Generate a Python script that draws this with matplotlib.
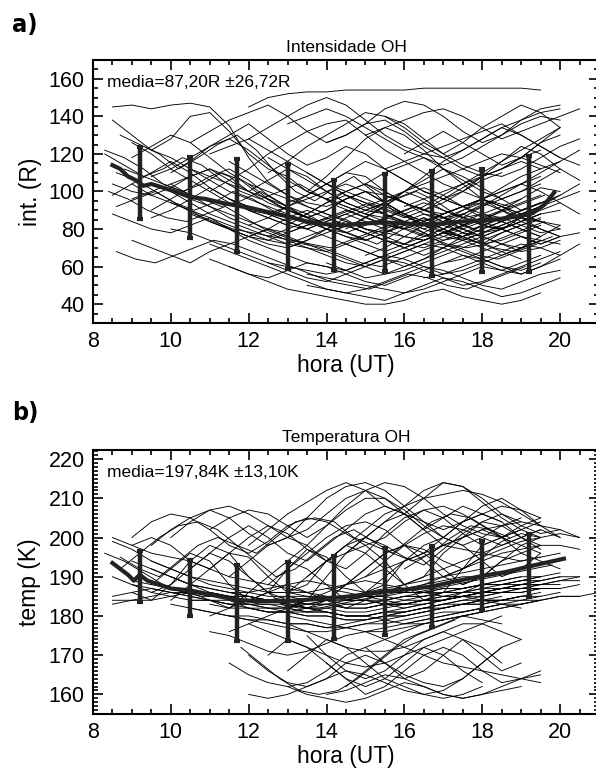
import matplotlib
matplotlib.use("Agg")
import matplotlib.pyplot as plt
from matplotlib.ticker import MultipleLocator
import numpy as np

plt.rcParams['font.family'] = ['Liberation Sans', 'DejaVu Sans']

# ---- panel a: OH intensity, one curve per night (start hour, values every 0.5 h)
int_start = [8.5, 8.5, 8.3, 8.7, 8.5, 8.6, 8.4, 8.8, 9.0, 9.5, 10.0, 10.5, 12.0, 11.0,
             10.0, 11.0, 11.5, 12.0, 12.5, 13.0, 13.5, 14.0, 14.5, 15.0, 15.0, 16.0,
             16.0, 16.5, 17.0, 9.0, 9.5, 10.5, 11.0, 12.0, 12.5, 13.0, 8.5, 9.0, 14.0,
             15.5, 10.0, 11.5, 8.6, 13.5, 9.5,
             8.3, 8.5, 9.0, 9.5, 10.0, 10.5, 11.0, 11.5, 12.0, 12.5, 13.0, 13.5, 14.0,
             14.5, 15.0, 15.5, 16.0, 16.5, 12.0, 13.0, 10.5, 9.0, 11.0, 13.5, 14.0,
             15.0, 17.0, 8.6, 10.0, 12.5]
int_nights = [
    [145, 146, 144, 146, 147, 145, 135, 118, 105, 98, 92, 88, 85, 80, 78, 82, 86, 80, 75, 72, 78, 82, 85],
    [138, 130, 122, 128, 140, 142, 132, 120, 112, 108, 100, 96, 92, 88, 94, 100, 96, 90, 86, 88, 92, 96],
    [122, 118, 112, 104, 100, 96, 92, 95, 100, 94, 88, 84, 80, 76, 72, 78, 84, 86, 80, 75, 70, 68, 72, 76],
    [130, 125, 120, 112, 118, 125, 130, 122, 110, 100, 95, 102, 108, 100, 90, 85, 80, 84, 90, 95, 92],
    [88, 84, 80, 78, 82, 86, 80, 74, 70, 66, 62, 60, 58, 62, 66, 64, 60, 56, 58, 62, 66, 70, 74],
    [68, 64, 62, 66, 70, 74, 72, 68, 64, 60, 56, 52, 50, 48, 52, 56, 54, 50, 48, 52, 56, 60],
    [100, 96, 90, 86, 84, 88, 92, 86, 80, 76, 72, 70, 66, 62, 60, 64, 68, 72, 70, 66, 64, 68, 72],
    [112, 108, 104, 100, 104, 110, 106, 98, 92, 88, 84, 80, 84, 90, 96, 100, 95, 88, 84, 80, 82],
    [118, 124, 130, 126, 118, 110, 104, 96, 90, 86, 90, 96, 100, 94, 88, 82, 78, 76, 80, 84],
    [90, 96, 102, 108, 112, 106, 98, 92, 86, 80, 76, 74, 78, 84, 88, 86, 80, 76, 72, 70],
    [110, 116, 124, 130, 136, 128, 120, 114, 118, 124, 120, 112, 106, 100, 96, 100, 106, 110],
    [126, 132, 138, 142, 146, 140, 132, 126, 130, 136, 138, 132, 124, 118, 112, 108, 112, 118, 122],
    [145, 150, 152, 153, 153, 154, 154, 154, 154, 155, 155, 155, 155, 155, 155, 154],
    [100, 106, 112, 120, 126, 132, 136, 138, 130, 122, 116, 110, 104, 100, 96, 92, 88, 84],
    [80, 78, 74, 70, 66, 62, 58, 54, 52, 56, 60, 64, 62, 58, 54, 50, 52, 56, 60, 64, 68],
    [72, 68, 64, 60, 56, 52, 48, 46, 44, 42, 46, 50, 54, 52, 48, 44, 46, 50, 54],
    [60, 56, 52, 48, 46, 44, 42, 40, 40, 42, 46, 48, 44, 42, 40, 42, 46],
    [90, 86, 82, 80, 84, 88, 92, 96, 100, 104, 108, 112, 116, 120, 118, 114, 110],
    [110, 116, 124, 130, 136, 142, 140, 134, 126, 120, 126, 134, 140, 146, 142, 134],
    [70, 74, 80, 86, 90, 88, 84, 78, 72, 68, 64, 60, 56, 60, 66, 72],
    [100, 108, 118, 128, 134, 130, 122, 112, 104, 96, 90, 84, 80, 76, 78],
    [126, 130, 136, 144, 148, 146, 140, 132, 126, 130, 138, 144, 146],
    [80, 86, 92, 100, 108, 116, 122, 128, 134, 130, 124, 118],
    [104, 98, 94, 90, 94, 100, 108, 116, 124, 120, 112, 106],
    [66, 70, 76, 82, 88, 92, 96, 100, 104, 110, 116, 122],
    [120, 126, 132, 126, 120, 114, 118, 126, 134],
    [92, 96, 100, 104, 108, 112, 118, 126, 130],
    [54, 56, 60, 64, 68, 72, 70, 66],
    [86, 82, 78, 80, 86, 92, 98, 104],
    [74, 70, 66, 62, 68, 72, 76, 80, 76, 72, 68, 64, 60, 56, 58, 62, 66, 70, 74, 78, 82, 86],
    [86, 90, 96, 102, 96, 90, 86, 82, 88, 94, 98, 94, 88, 82, 78, 74, 76, 80, 84, 88, 92],
    [96, 92, 88, 84, 80, 78, 82, 86, 90, 86, 82, 80, 84, 88, 92, 94, 90, 86, 84],
    [84, 80, 76, 74, 78, 82, 86, 82, 78, 74, 70, 74, 78, 82, 86, 90, 94, 98],
    [104, 100, 96, 92, 88, 84, 80, 78, 76, 74, 78, 82, 86, 84, 80, 76],
    [62, 60, 58, 56, 58, 62, 66, 70, 74, 78, 76, 72, 68, 64],
    [94, 98, 104, 110, 116, 112, 106, 100, 96, 92, 88, 84, 88, 92, 96, 100],
    [104, 100, 98, 102, 108, 112, 108, 100, 96, 92, 96, 100, 104, 100, 94, 88, 84, 80, 76, 72, 74, 78, 82],
    [126, 120, 112, 106, 100, 94, 90, 88, 92, 98, 104, 110, 108, 100, 94, 90, 86, 88, 92, 96, 100, 104],
    [62, 58, 54, 56, 60, 64, 68, 72, 76, 80, 84, 88, 90],
    [140, 136, 128, 120, 114, 110, 108, 112, 118, 124, 128],
    [100, 94, 88, 84, 80, 76, 72, 70, 68, 72, 76, 80, 84, 80, 76, 74, 78, 82, 86, 90, 94],
    [116, 110, 104, 98, 94, 92, 96, 100, 98, 94, 90, 88, 92, 96, 100, 104, 108],
    [92, 96, 100, 94, 88, 84, 80, 78, 76, 74, 72, 70, 74, 78, 82, 80, 76, 72, 70, 72, 76, 80, 84],
    [50, 48, 46, 48, 52, 56, 60, 58, 54, 50, 48, 52, 56, 58],
    [108, 112, 118, 124, 128, 122, 114, 106, 100, 96, 92, 88, 86, 84, 82, 86, 90, 94],
    [120, 114, 108, 112, 118, 114, 106, 100, 96, 100, 104, 98, 92, 88, 84, 88, 92, 88, 84, 80, 84, 88, 92, 96],
    [98, 104, 110, 116, 110, 102, 96, 92, 88, 84, 80, 84, 88, 84, 80, 76, 74, 78, 82, 86, 84, 80, 76],
    [96, 100, 104, 98, 92, 86, 82, 86, 92, 88, 82, 78, 74, 78, 82, 86, 82, 78, 76, 80, 84, 88],
    [122, 118, 112, 108, 104, 100, 106, 112, 108, 100, 94, 90, 94, 98, 102, 98, 92, 86, 84, 88, 92],
    [104, 108, 112, 106, 100, 94, 90, 86, 90, 96, 100, 94, 88, 84, 88, 92, 96, 92, 88, 84, 82],
    [88, 84, 80, 76, 72, 70, 74, 78, 82, 78, 74, 70, 66, 70, 74, 78, 82, 86, 84, 80],
    [120, 124, 128, 122, 116, 110, 104, 98, 94, 90, 86, 90, 96, 102, 108, 112, 116, 112],
    [96, 92, 88, 84, 80, 76, 72, 68, 64, 68, 72, 76, 80, 76, 72, 68, 70, 74],
    [82, 78, 74, 70, 66, 62, 60, 64, 68, 72, 70, 66, 62, 58, 62, 66],
    [118, 112, 106, 100, 94, 90, 94, 100, 106, 112, 108, 102, 96, 90, 94, 98],
    [84, 88, 94, 100, 104, 100, 94, 88, 84, 80, 84, 90, 96, 102, 100],
    [110, 104, 98, 92, 88, 84, 80, 84, 90, 96, 92, 86, 80, 76],
    [96, 100, 104, 110, 114, 118, 112, 106, 100, 96, 100, 106, 112],
    [72, 68, 64, 60, 64, 70, 76, 82, 80, 76, 72, 76],
    [88, 84, 80, 76, 80, 86, 92, 98, 104, 100, 94, 88],
    [112, 116, 120, 124, 128, 132, 136, 130, 124, 118, 114],
    [70, 74, 78, 74, 70, 66, 70, 76, 82],
    [100, 96, 92, 96, 102, 108, 112, 116],
    [128, 134, 140, 146, 150, 146, 138, 130, 124, 120, 118, 122, 128, 134, 138, 142, 144],
    [136, 140, 144, 140, 134, 128, 122, 118, 114, 118, 124, 130, 136, 140, 138],
    [112, 106, 100, 96, 92, 88, 84, 80, 78, 82, 86, 90, 94, 90, 86, 82, 80, 84, 88],
    [104, 98, 94, 90, 86, 82, 78, 74, 72, 76, 80, 84, 80, 76, 72, 70, 74, 78, 82, 86, 90, 94],
    [64, 60, 56, 54, 58, 62, 60, 56, 52, 50, 54, 58, 62, 66, 64, 60, 58, 62],
    [56, 54, 52, 50, 48, 46, 48, 52, 56, 60, 58, 56, 60, 64],
    [104, 100, 96, 92, 88, 92, 98, 104, 110, 116, 122, 128, 134],
    [130, 134, 138, 142, 144, 140, 134, 128, 132, 136, 140, 144],
    [62, 64, 68, 72, 76, 74, 72],
    [110, 106, 100, 94, 90, 94, 100, 96, 90, 86, 82, 86, 90, 94, 90, 86, 82, 78, 82, 86, 90, 94, 98],
    [94, 90, 84, 80, 76, 80, 86, 90, 86, 82, 78, 74, 72, 76, 80, 84, 88, 86, 82, 78, 80],
    [76, 80, 84, 80, 76, 72, 68, 72, 78, 84, 88, 84, 80, 76, 72, 76],
]
int_mean_h = [8.5, 8.7, 8.9, 9.1, 9.3, 9.5, 9.8, 10.1, 10.5, 10.9, 11.3, 11.7, 12.1, 12.5,
              13.0, 13.5, 14.0, 14.5, 15.0, 15.5, 16.0, 16.5, 17.0, 17.5, 18.0, 18.5,
              19.0, 19.3, 19.6, 19.85]
int_mean = [114, 112, 108, 106, 103, 104, 102, 100, 97, 96, 94, 92.5, 91, 89,
            86.7, 84, 82.5, 82, 83, 83.5, 83, 82.5, 83, 84, 84.5, 85.5,
            87, 88.5, 93, 99.5]
bar_h = [9.2, 10.5, 11.7, 13.0, 14.2, 15.5, 16.7, 18.0, 19.2]
int_bar_mean = [104.5, 96.8, 92.5, 86.7, 82.0, 83.5, 83.0, 84.5, 88.0]
int_bar_sd = [19.2, 21.6, 24.8, 28.0, 24.0, 26.0, 28.0, 27.5, 31.0]

# ---- panel b: OH temperature
temp_start = [8.5, 8.3, 8.5, 8.7, 9.0, 9.5, 10.0, 11.0, 12.0, 13.0, 8.5, 9.0, 9.5, 10.0,
              10.5, 11.0, 11.5, 8.5, 9.0, 9.5, 10.0, 10.5, 11.0, 11.5, 11.8, 12.0, 12.5,
              13.0, 13.5, 14.0, 12.0, 14.5, 16.0, 15.0, 16.0, 17.0, 8.5, 11.5, 12.5,
              14.0, 9.0, 10.0, 13.0, 15.0, 13.5, 14.5,
              8.5, 9.0, 9.5, 10.0, 10.5, 11.0, 11.5, 12.0, 12.5, 13.0, 14.5, 15.5, 8.7,
              9.0, 10.5, 11.5, 12.5, 13.0, 14.0, 15.0, 16.0, 12.0, 13.0, 14.0, 15.0,
              9.5, 17.5]
temp_nights = [
    [199, 197, 194, 192, 190, 188, 187, 186, 185, 185, 184, 184, 185, 186, 187, 188, 189, 190, 191, 192, 193, 194, 195],
    [196, 194, 191, 188, 186, 185, 185, 184, 183, 183, 182, 182, 183, 184, 185, 186, 186, 187, 188, 189, 190, 191, 192, 193],
    [184, 184, 185, 186, 185, 184, 183, 182, 182, 181, 181, 182, 183, 183, 184, 185, 185, 186, 186, 187, 188, 188, 189],
    [192, 196, 200, 203, 204, 202, 198, 196, 200, 204, 205, 204, 200, 198, 196, 200, 204, 206, 205, 202, 200],
    [200, 204, 206, 205, 202, 198, 196, 199, 203, 205, 204, 201, 198, 200, 204, 207, 208, 206, 203, 200, 202, 204],
    [198, 202, 205, 207, 208, 206, 203, 200, 202, 206, 210, 212, 210, 206, 202, 205, 208, 206, 204],
    [200, 204, 207, 205, 201, 198, 200, 205, 210, 213, 214, 212, 208, 204, 202, 204, 206, 208, 207, 205],
    [202, 205, 207, 206, 203, 200, 203, 208, 212, 214, 213, 210, 206, 203, 201, 200, 202],
    [198, 202, 206, 209, 212, 214, 212, 208, 206, 210, 214, 213, 209, 205, 202, 200],
    [194, 198, 203, 207, 210, 210, 207, 203, 200, 204, 208, 210, 207, 203],
    [190, 188, 186, 188, 192, 196, 194, 190, 186, 184, 182, 184, 188, 192, 196, 198, 194, 190, 188, 190, 194, 196, 198],
    [186, 184, 188, 194, 198, 196, 190, 186, 182, 184, 190, 196, 198, 194, 188, 184, 186, 192, 198, 200, 198, 196],
    [188, 192, 196, 194, 188, 184, 186, 192, 197, 195, 190, 186, 188, 194, 198, 200, 198, 194, 190, 192, 196],
    [184, 188, 192, 196, 195, 190, 186, 188, 194, 198, 196, 192, 188, 190, 196, 200, 202, 200, 196, 194, 192],
    [186, 184, 182, 186, 190, 194, 192, 188, 184, 186, 190, 194, 196, 192, 188, 190, 194, 198, 200],
    [180, 182, 184, 186, 188, 186, 184, 182, 184, 186, 188, 190, 192, 194, 196, 198, 200, 202, 200],
    [176, 178, 180, 182, 184, 186, 188, 190, 192, 194, 196, 198, 197, 196, 195, 194, 195, 196],
    [183, 184, 184, 185, 186, 186, 185, 184, 184, 183, 183, 184, 185, 185, 186, 186, 186, 185, 185, 184, 184, 185],
    [188, 187, 186, 186, 185, 185, 184, 184, 185, 185, 184, 183, 183, 184, 185, 186, 187, 187, 188, 188, 189, 190],
    [192, 190, 188, 187, 186, 185, 184, 183, 182, 182, 181, 181, 182, 183, 184, 184, 185, 186, 186, 186],
    [183, 182, 181, 180, 180, 179, 178, 178, 177, 178, 179, 180, 181, 182, 183, 184, 184, 183, 182],
    [182, 181, 180, 179, 178, 177, 176, 176, 177, 178, 179, 180, 181, 182, 183, 184, 185],
    [176, 175, 173, 171, 170, 171, 173, 175, 176, 177, 178, 179, 180, 181, 182, 183],
    [168, 165, 163, 162, 163, 166, 170, 172, 174, 176, 178, 179, 180, 181],
    [172, 168, 164, 161, 160, 161, 164, 168, 172, 175, 177, 179],
    [160, 159, 160, 162, 164, 166, 165, 163, 161, 160, 159, 160, 162],
    [170, 174, 172, 168, 164, 162, 164, 168, 172, 170, 166, 163],
    [162, 160, 159, 158, 159, 161, 163, 162, 160, 159, 160, 161, 162],
    [175, 170, 166, 164, 166, 170, 174, 176, 174, 170, 166, 168],
    [168, 164, 160, 162, 166, 170, 172, 170, 166, 163, 164, 166],
    [178, 176, 174, 172, 170, 168, 167, 168, 170, 172, 174, 176, 178, 180],
    [162, 166, 170, 174, 176, 178, 180, 179, 178],
    [178, 179, 180, 181, 182, 183, 184, 184, 185, 185],
    [182, 183, 184, 185, 186, 186, 187, 187, 188, 188, 189, 190],
    [186, 188, 190, 192, 194, 196, 197, 198, 198, 197],
    [190, 192, 195, 197, 199, 200, 201, 200],
    [200, 198, 196, 195, 194, 192, 190, 189, 188, 187, 186, 185, 185, 184, 184, 185, 185, 186, 187, 188, 188, 189, 190],
    [186, 185, 184, 183, 182, 181, 180, 180, 179, 178, 178, 179, 180, 181, 182, 183, 184, 185, 185, 186, 186],
    [184, 183, 182, 181, 180, 180, 181, 182, 183, 184, 185, 186, 187, 188, 189, 190, 190],
    [187, 186, 185, 184, 183, 183, 184, 185, 186, 187, 188, 188, 189, 189],
    [194, 192, 190, 188, 187, 186, 186, 187, 188, 189, 188, 187, 186, 186, 187, 188, 189, 190, 190],
    [190, 188, 186, 184, 182, 181, 181, 182, 183, 184, 184, 183, 182, 183, 184, 186, 188, 189, 190, 190, 191],
    [178, 176, 174, 172, 171, 171, 172, 174, 176, 178, 178, 176, 174],
    [176, 174, 172, 170, 168, 167, 166, 165, 164, 163],
    [190, 194, 198, 202, 206, 208, 210, 211, 212, 211, 209, 206, 203, 200],
    [196, 200, 204, 208, 212, 214, 213, 210, 206, 203, 201, 202],
    [185, 186, 187, 186, 185, 184, 184, 183, 183, 182, 183, 184, 184, 185, 185, 184, 184, 185, 186, 186, 187, 187, 188],
    [189, 188, 187, 186, 186, 185, 185, 184, 184, 183, 183, 182, 182, 183, 183, 184, 185, 185, 186, 186, 187, 187],
    [186, 185, 184, 184, 183, 183, 182, 182, 181, 181, 180, 180, 181, 181, 182, 183, 183, 184, 184, 185],
    [187, 186, 186, 185, 185, 184, 184, 183, 183, 182, 182, 183, 183, 184, 184, 185, 185, 186, 186, 187, 187],
    [184, 184, 183, 183, 182, 182, 181, 181, 180, 180, 181, 181, 182, 182, 183, 183, 184, 184, 185],
    [183, 182, 182, 181, 181, 180, 180, 179, 179, 180, 180, 181, 182, 183, 183, 184, 185, 185, 186],
    [180, 179, 179, 178, 178, 177, 177, 178, 178, 179, 180, 181, 181, 182, 183, 183, 184],
    [182, 181, 181, 180, 180, 179, 179, 180, 180, 181, 182, 183, 184, 184, 185, 186],
    [186, 186, 185, 185, 184, 184, 183, 183, 184, 184, 185, 186, 186, 187, 187],
    [180, 179, 178, 177, 176, 176, 177, 178, 179, 180, 181, 182, 183, 184],
    [184, 185, 185, 186, 186, 187, 187, 188, 188, 189, 189, 190],
    [180, 181, 182, 183, 184, 185, 186, 186, 187, 187, 188],
    [195, 192, 190, 194, 198, 200, 198, 194, 190, 192, 196, 200, 202, 199, 196, 194, 196, 200, 203, 202, 199],
    [198, 200, 198, 194, 192, 196, 200, 203, 201, 197, 194, 196, 200, 204, 206, 204, 200, 198, 200, 203, 205],
    [192, 196, 200, 203, 200, 196, 194, 198, 202, 206, 208, 206, 202, 198, 200, 204, 206, 204],
    [190, 194, 198, 200, 198, 194, 192, 196, 201, 205, 207, 205, 201, 198, 200, 203, 205],
    [188, 192, 196, 200, 203, 204, 202, 198, 196, 200, 204, 206, 204, 200, 198],
    [186, 190, 194, 198, 200, 198, 195, 193, 197, 201, 204, 203, 200, 197],
    [184, 188, 192, 196, 198, 197, 194, 192, 195, 199, 201, 200],
    [190, 194, 198, 201, 203, 202, 200, 198, 200, 202],
    [192, 195, 198, 200, 202, 203, 204, 203, 202, 200],
    [170, 166, 163, 162, 164, 168, 170, 168, 165, 163, 162, 164, 168, 172],
    [166, 170, 174, 172, 168, 164, 162, 160, 161, 164, 168, 172, 174],
    [160, 161, 163, 165, 164, 162, 160, 159, 160, 162, 164, 165],
    [172, 168, 164, 166, 170, 174, 172, 168],
    [194, 192, 190, 189, 188, 187, 186, 186, 186, 187, 188, 189, 188, 187, 186, 186, 187, 188, 189, 190],
    [185, 186, 187, 187, 188, 188],
]
temp_mean_h = [8.5, 8.7, 8.9, 9.05, 9.2, 9.4, 9.7, 10.0, 10.5, 11.0, 11.7, 12.3, 13.0,
               13.6, 14.2, 14.8, 15.5, 16.1, 16.7, 17.3, 18.0, 18.6, 19.2, 19.6, 20.1]
temp_mean = [193.5, 192, 190.5, 189, 190.5, 189, 188, 187, 186.5, 185.5, 184, 183.8, 183.8,
             184.2, 184.6, 185.2, 186.3, 186.8, 187.5, 188.8, 190.2, 191.2, 192.6, 193.5, 194.6]
temp_bar_mean = [190.1, 187.1, 183.4, 183.7, 184.6, 186.3, 187.5, 190.4, 192.9]
temp_bar_sd = [6.5, 7.2, 9.7, 10.1, 10.6, 11.1, 10.4, 8.8, 8.0]


def style_axes(ax, ymajor, yminor):
    ax.set_xlim(8, 21)
    ax.xaxis.set_major_locator(MultipleLocator(2))
    ax.xaxis.set_minor_locator(MultipleLocator(0.5))
    ax.yaxis.set_major_locator(MultipleLocator(ymajor))
    ax.yaxis.set_minor_locator(MultipleLocator(yminor))
    ax.tick_params(which='both', direction='in', top=True, right=True, width=1.2,
                   labelsize=15.5, pad=6)
    ax.tick_params(which='major', length=7)
    ax.tick_params(which='minor', length=3.5)
    for s in ax.spines.values():
        s.set_linewidth(1.5)


def draw_panel(ax, starts, nights, mh, mv, bm, bs):
    for t0, vals in zip(starts, nights):
        h = t0 + 0.5 * np.arange(len(vals))
        ax.plot(h, vals, color='black', lw=0.65)
    ax.plot(mh, mv, color='#222222', lw=3.0)
    ax.errorbar(bar_h, bm, yerr=bs, fmt='none', ecolor='#222222', elinewidth=3.2,
                capsize=2.5, capthick=3)


fig = plt.figure(figsize=(5.96, 7.73), dpi=100)
ax1 = fig.add_axes([0.156, 0.5822, 0.849, 0.3402])
ax2 = fig.add_axes([0.156, 0.0763, 0.849, 0.3415])

draw_panel(ax1, int_start, int_nights, int_mean_h, int_mean, int_bar_mean, int_bar_sd)
style_axes(ax1, 20, 5)
ax1.set_ylim(30, 170)
ax1.set_title('Intensidade OH', fontsize=12.5, pad=6)
ax1.set_xlabel('hora (UT)', fontsize=16.5, labelpad=1)
ax1.set_ylabel('int. (R)', fontsize=16.5, labelpad=5)
ax1.text(0.028, 0.915, 'media=87,20R \u00b126,72R', transform=ax1.transAxes,
         fontsize=12.5, va='center', ha='left')

draw_panel(ax2, temp_start, temp_nights, temp_mean_h, temp_mean, temp_bar_mean, temp_bar_sd)
style_axes(ax2, 10, 1)
ax2.set_ylim(155, 222.3)
ax2.set_title('Temperatura OH', fontsize=12.5, pad=6)
ax2.set_xlabel('hora (UT)', fontsize=16.5, labelpad=1)
ax2.set_ylabel('temp (K)', fontsize=16.5, labelpad=5)
ax2.text(0.028, 0.915, 'media=197,84K \u00b113,10K', transform=ax2.transAxes,
         fontsize=12.5, va='center', ha='left')

fig.text(0.02, 0.968, 'a)', fontsize=18, fontweight='bold', fontstretch='condensed',
         family='DejaVu Sans', va='center')
fig.text(0.02, 0.466, 'b)', fontsize=18, fontweight='bold', fontstretch='condensed',
         family='DejaVu Sans', va='center')

fig.savefig('out.png', dpi=100)
